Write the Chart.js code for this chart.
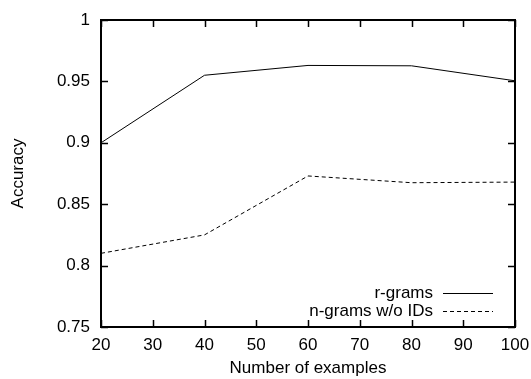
<!DOCTYPE html>
<html>
<head>
<meta charset="utf-8">
<script src="https://cdn.jsdelivr.net/npm/chart.js@4/dist/chart.umd.min.js"></script>
<style>
  html, body { margin: 0; padding: 0; background: #fff; }
  #wrap { width: 531px; height: 379px; }
</style>
</head>
<body>
<div id="wrap"><canvas id="chart" width="531" height="379"></canvas></div>
<script>
// data
const examples = [20, 40, 60, 80, 100];
const rgrams = [0.900, 0.955, 0.963, 0.9627, 0.9505];
const ngramsNoIds = [0.810, 0.825, 0.873, 0.8675, 0.868];
const xTicks = [20, 30, 40, 50, 60, 70, 80, 90, 100];
const yTicks = [0.75, 0.8, 0.85, 0.9, 0.95, 1];

const FONT = { family: "'Liberation Sans', Arial, sans-serif", size: 17 };

// gnuplot-style frame: border plus inward ticks mirrored on all sides
const framePlugin = {
  id: "frame",
  afterDatasetsDraw(chart) {
    const { ctx, chartArea: a, scales } = chart;
    const len = 7;
    ctx.save();
    ctx.strokeStyle = "#000";
    ctx.lineWidth = 1.5;
    ctx.beginPath();
    xTicks.forEach(v => {
      const px = Math.round(scales.x.getPixelForValue(v)) + 0.5;
      ctx.moveTo(px, a.bottom); ctx.lineTo(px, a.bottom - len);
      ctx.moveTo(px, a.top); ctx.lineTo(px, a.top + len);
    });
    yTicks.forEach(v => {
      const py = Math.round(scales.y.getPixelForValue(v)) + 0.5;
      ctx.moveTo(a.left, py); ctx.lineTo(a.left + len, py);
      ctx.moveTo(a.right, py); ctx.lineTo(a.right - len, py);
    });
    ctx.stroke();
    ctx.lineWidth = 2;
    ctx.strokeRect(a.left, a.top, a.right - a.left, a.bottom - a.top);
    ctx.restore();
  },
};

// legend inside the plot, text right-aligned left of the line sample
const keyPlugin = {
  id: "key",
  afterDraw(chart) {
    const { ctx, chartArea: a } = chart;
    const x1 = a.right - 72, x2 = a.right - 22;
    let y = a.bottom - 34;
    ctx.save();
    ctx.font = `${FONT.size}px ${FONT.family}`;
    ctx.fillStyle = "#000";
    ctx.textAlign = "right";
    ctx.textBaseline = "middle";
    chart.data.datasets.forEach(ds => {
      ctx.fillText(ds.label, x1 - 10, y);
      ctx.strokeStyle = ds.borderColor;
      ctx.lineWidth = 1;
      ctx.setLineDash(ds.borderDash || []);
      ctx.beginPath();
      ctx.moveTo(x1, Math.round(y) + 0.5);
      ctx.lineTo(x2, Math.round(y) + 0.5);
      ctx.stroke();
      y += 18;
    });
    ctx.restore();
  },
};

new Chart(document.getElementById("chart"), {
  type: "line",
  data: {
    datasets: [
      {
        label: "r-grams",
        data: examples.map((x, i) => ({ x, y: rgrams[i] })),
        borderColor: "#000",
        borderWidth: 1,
        pointRadius: 0,
        tension: 0,
      },
      {
        label: "n-grams w/o IDs",
        data: examples.map((x, i) => ({ x, y: ngramsNoIds[i] })),
        borderColor: "#000",
        borderWidth: 1,
        borderDash: [4, 3],
        pointRadius: 0,
        tension: 0,
      },
    ],
  },
  options: {
    responsive: false,
    animation: false,
    layout: { padding: { top: 20, right: 16, left: 0, bottom: 0 } },
    plugins: {
      legend: { display: false },
      tooltip: { enabled: false },
    },
    scales: {
      x: {
        type: "linear",
        min: 20,
        max: 100,
        afterBuildTicks: s => { s.ticks = xTicks.map(v => ({ value: v })); },
        afterFit: s => { s.height = 52; s.paddingLeft = 0; s.paddingRight = 0; },
        grid: { display: false, drawTicks: false },
        border: { display: false },
        ticks: { color: "#000", font: FONT, padding: 8, maxRotation: 0 },
        title: { display: true, text: "Number of examples", color: "#000", font: FONT, padding: { top: 2, bottom: 0 } },
      },
      y: {
        type: "linear",
        min: 0.75,
        max: 1,
        afterBuildTicks: s => { s.ticks = yTicks.map(v => ({ value: v })); },
        afterFit: s => { s.width = 101; s.paddingTop = 0; s.paddingBottom = 0; },
        grid: { display: false, drawTicks: false },
        border: { display: false },
        ticks: { color: "#000", font: FONT, padding: 11, callback: v => String(v) },
        title: { display: true, text: "Accuracy", color: "#000", font: FONT, padding: { top: 8, bottom: 0 } },
      },
    },
  },
  plugins: [framePlugin, keyPlugin],
});
</script>
</body>
</html>
